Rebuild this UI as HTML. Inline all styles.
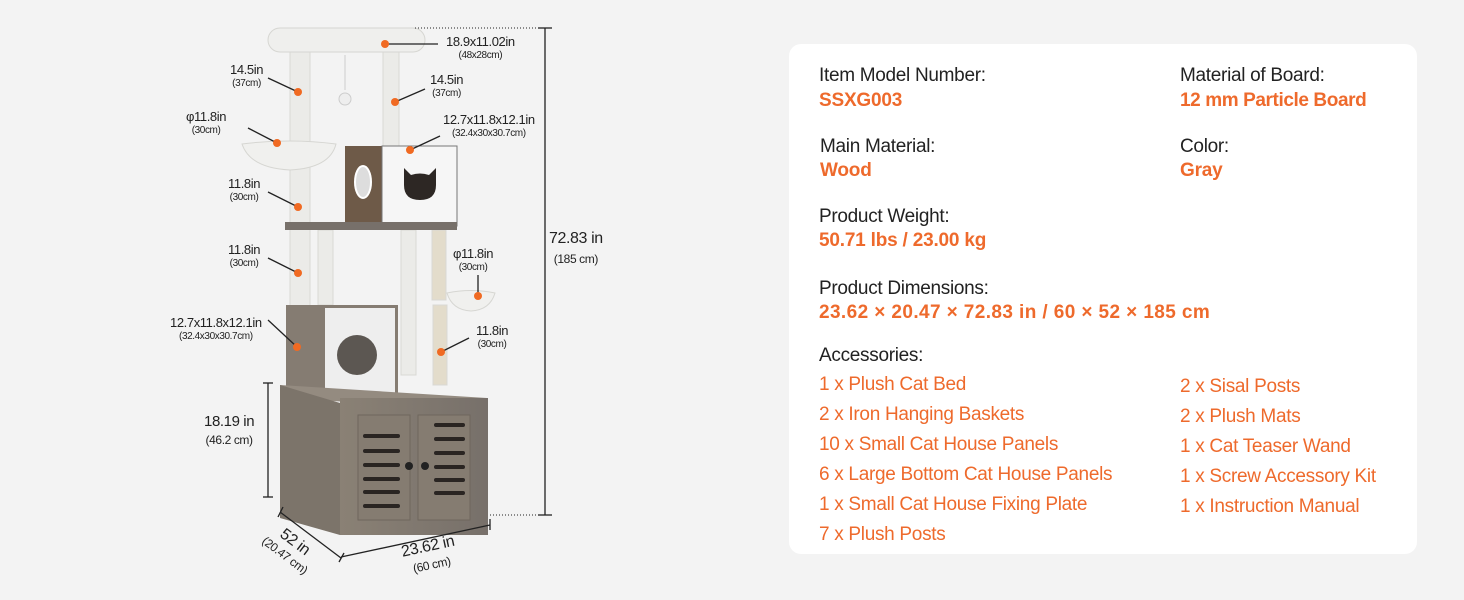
<!DOCTYPE html>
<html><head><meta charset="utf-8"><style>
body{margin:0;width:1464px;height:600px;background:#f3f3f3;font-family:"Liberation Sans",sans-serif;position:relative;overflow:hidden}
.card{position:absolute;left:789px;top:44px;width:628px;height:510px;background:#fff;border-radius:12px}
.t{position:absolute;font-size:19px;color:#222;white-space:nowrap;letter-spacing:-0.3px}
.o{position:absolute;font-size:19px;color:#ee6a2c;font-weight:bold;white-space:nowrap;letter-spacing:-0.2px}
.a{position:absolute;font-size:19px;color:#ee6a2c;white-space:nowrap;letter-spacing:-0.3px}
.l{position:absolute;font-size:13px;color:#222;white-space:nowrap;text-align:center;line-height:14px;letter-spacing:-0.4px}
.l small{font-size:10px;display:block}
</style></head><body>
<svg width="640" height="600" style="position:absolute;left:0;top:0">
<defs><linearGradient id="w" x1="0" x2="1"><stop offset="0" stop-color="#8a8175"/><stop offset="1" stop-color="#77706a"/></linearGradient></defs>
<g stroke="#d8d8d4">
<rect x="290" y="50" width="20" height="260" fill="#ebebe8"/>
<rect x="383" y="50" width="16" height="100" fill="#ebebe8"/>
<rect x="318" y="230" width="15" height="75" fill="#ebebe8"/>
<rect x="401" y="230" width="15" height="145" fill="#ebebe8"/>
<rect x="432" y="230" width="14" height="70" fill="#e3dccb"/>
<rect x="433" y="305" width="14" height="80" fill="#e3dccb"/>
</g>
<rect x="268" y="28" width="157" height="24" rx="12" fill="#efefed" stroke="#d6d6d2"/>
<line x1="345" y1="55" x2="345" y2="90" stroke="#ccc"/><circle cx="345" cy="99" r="6" fill="#eee" stroke="#ccc"/>
<path d="M242 144 Q290 138 336 144 Q330 168 290 170 Q250 168 242 144Z" fill="#f0f0ee" stroke="#d6d6d2"/>
<path d="M447 293 Q471 288 495 293 Q490 310 471 311 Q452 310 447 293Z" fill="#f0f0ee" stroke="#d6d6d2"/>
<rect x="345" y="146" width="38" height="80" fill="#6e5a48"/>
<ellipse cx="363" cy="182" rx="8" ry="16" fill="#ddd" stroke="#fff" stroke-width="2"/>
<rect x="382" y="146" width="75" height="80" fill="#f6f6f6" stroke="#777"/>
<path d="M404 168 L411 175 Q420 172 429 175 L436 168 L436 185 Q436 200 420 200 Q404 200 404 185Z" fill="#2d2724"/>
<rect x="285" y="222" width="172" height="8" fill="#77706a"/>
<rect x="286" y="305" width="112" height="95" fill="#857c72"/>
<rect x="325" y="308" width="70" height="90" fill="#eeeeee"/>
<circle cx="357" cy="355" r="20" fill="#5c5752"/>
<path d="M280 385 L487 398 L487 410 L280 398Z" fill="#948b80"/>
<path d="M280 385 L340 403 L340 535 L280 518Z" fill="#7c746a"/>
<rect x="340" y="398" width="148" height="137" fill="url(#w)"/>
<rect x="358" y="415" width="52" height="105" fill="#857c71" stroke="#6e665d"/>
<rect x="418" y="415" width="52" height="105" fill="#857c71" stroke="#6e665d"/>
<g stroke="#2a2522" stroke-width="4" stroke-linecap="round">
<line x1="365" y1="436" x2="398" y2="436"/><line x1="365" y1="451" x2="398" y2="451"/><line x1="365" y1="465" x2="398" y2="465"/><line x1="365" y1="479" x2="398" y2="479"/><line x1="365" y1="492" x2="398" y2="492"/><line x1="365" y1="506" x2="398" y2="506"/>
<line x1="436" y1="425" x2="463" y2="425"/><line x1="436" y1="439" x2="463" y2="439"/><line x1="436" y1="453" x2="463" y2="453"/><line x1="436" y1="467" x2="463" y2="467"/><line x1="436" y1="480" x2="463" y2="480"/><line x1="436" y1="493" x2="463" y2="493"/></g>
<circle cx="409" cy="466" r="4" fill="#222"/><circle cx="425" cy="466" r="4" fill="#222"/>
<g stroke="#222" stroke-width="1.3" fill="none">
<line x1="545" y1="28" x2="545" y2="515"/><line x1="538" y1="28" x2="552" y2="28"/><line x1="538" y1="515" x2="552" y2="515"/>
<line x1="415" y1="28" x2="538" y2="28" stroke-dasharray="1 2" stroke-width="1"/>
<line x1="490" y1="515" x2="538" y2="515" stroke-dasharray="1 2" stroke-width="1"/>
<line x1="268" y1="383" x2="268" y2="497"/><line x1="263" y1="383" x2="273" y2="383"/><line x1="263" y1="497" x2="273" y2="497"/>
<line x1="280" y1="512" x2="341" y2="558"/><line x1="278" y1="517" x2="283" y2="507"/><line x1="339" y1="562" x2="344" y2="553"/>
<line x1="341" y1="557" x2="490" y2="525"/><line x1="490" y1="519" x2="490" y2="530"/>
<line x1="385" y1="44" x2="438" y2="44"/>
<line x1="268" y1="78" x2="298" y2="92"/><line x1="425" y1="89" x2="395" y2="102"/>
<line x1="248" y1="128" x2="277" y2="143"/><line x1="440" y1="136" x2="410" y2="150"/>
<line x1="268" y1="192" x2="298" y2="207"/><line x1="268" y1="258" x2="298" y2="273"/>
<line x1="478" y1="275" x2="478" y2="296"/><line x1="268" y1="320" x2="297" y2="347"/><line x1="469" y1="338" x2="441" y2="352"/>
</g>
<g fill="#f06a22"><circle cx="385" cy="44" r="4"/><circle cx="298" cy="92" r="4"/><circle cx="395" cy="102" r="4"/><circle cx="277" cy="143" r="4"/><circle cx="410" cy="150" r="4"/><circle cx="298" cy="207" r="4"/><circle cx="298" cy="273" r="4"/><circle cx="478" cy="296" r="4"/><circle cx="297" cy="347" r="4"/><circle cx="441" cy="352" r="4"/></g>
</svg>
<div class="l" style="left:446px;top:35px">18.9x11.02in<small>(48x28cm)</small></div>
<div class="l" style="left:230px;top:63px">14.5in<small>(37cm)</small></div>
<div class="l" style="left:430px;top:73px">14.5in<small>(37cm)</small></div>
<div class="l" style="left:186px;top:110px">φ11.8in<small>(30cm)</small></div>
<div class="l" style="left:443px;top:113px">12.7x11.8x12.1in<small>(32.4x30x30.7cm)</small></div>
<div class="l" style="left:228px;top:177px">11.8in<small>(30cm)</small></div>
<div class="l" style="left:228px;top:243px">11.8in<small>(30cm)</small></div>
<div class="l" style="left:453px;top:247px">φ11.8in<small>(30cm)</small></div>
<div class="l" style="left:170px;top:316px">12.7x11.8x12.1in<small>(32.4x30x30.7cm)</small></div>
<div class="l" style="left:476px;top:324px">11.8in<small>(30cm)</small></div>
<div class="l" style="left:204px;top:413px;font-size:15px;line-height:18px">18.19 in<small style="font-size:12px">(46.2 cm)</small></div>
<div class="l" style="left:549px;top:229px;font-size:16px;line-height:20px">72.83 in<small style="font-size:12px">(185 cm)</small></div>
<div class="l" style="left:403px;top:538px;font-size:16px;line-height:18px;transform:rotate(-12deg)">23.62 in<small style="font-size:12px">(60 cm)</small></div>
<div class="l" style="left:263px;top:533px;font-size:16px;line-height:16px;transform:rotate(37deg)">52 in<small style="font-size:12px">(20.47 cm)</small></div>
<div class="card"></div>
<div class="t" style="left:819px;top:65px">Item Model Number:</div>
<div class="o" style="left:819px;top:90px">SSXG003</div>
<div class="t" style="left:1180px;top:65px">Material of Board:</div>
<div class="o" style="left:1180px;top:90px;letter-spacing:-0.4px">12 mm Particle Board</div>
<div class="t" style="left:820px;top:136px">Main Material:</div>
<div class="o" style="left:820px;top:160px">Wood</div>
<div class="t" style="left:1180px;top:136px">Color:</div>
<div class="o" style="left:1180px;top:160px">Gray</div>
<div class="t" style="left:819px;top:206px">Product Weight:</div>
<div class="o" style="left:819px;top:230px">50.71 lbs / 23.00 kg</div>
<div class="t" style="left:819px;top:278px">Product Dimensions:</div>
<div class="o" style="left:819px;top:302px;letter-spacing:0.4px">23.62 × 20.47 × 72.83 in / 60 × 52 × 185 cm</div>
<div class="t" style="left:819px;top:345px">Accessories:</div>
<div class="a" style="left:819px;top:374px">1 x Plush Cat Bed</div>
<div class="a" style="left:819px;top:404px">2 x Iron Hanging Baskets</div>
<div class="a" style="left:819px;top:434px">10 x Small Cat House Panels</div>
<div class="a" style="left:819px;top:464px">6 x Large Bottom Cat House Panels</div>
<div class="a" style="left:819px;top:494px">1 x Small Cat House Fixing Plate</div>
<div class="a" style="left:819px;top:524px">7 x Plush Posts</div>
<div class="a" style="left:1180px;top:376px">2 x Sisal Posts</div>
<div class="a" style="left:1180px;top:406px">2 x Plush Mats</div>
<div class="a" style="left:1180px;top:436px">1 x Cat Teaser Wand</div>
<div class="a" style="left:1180px;top:466px">1 x Screw Accessory Kit</div>
<div class="a" style="left:1180px;top:496px">1 x Instruction Manual</div>
</body></html>
